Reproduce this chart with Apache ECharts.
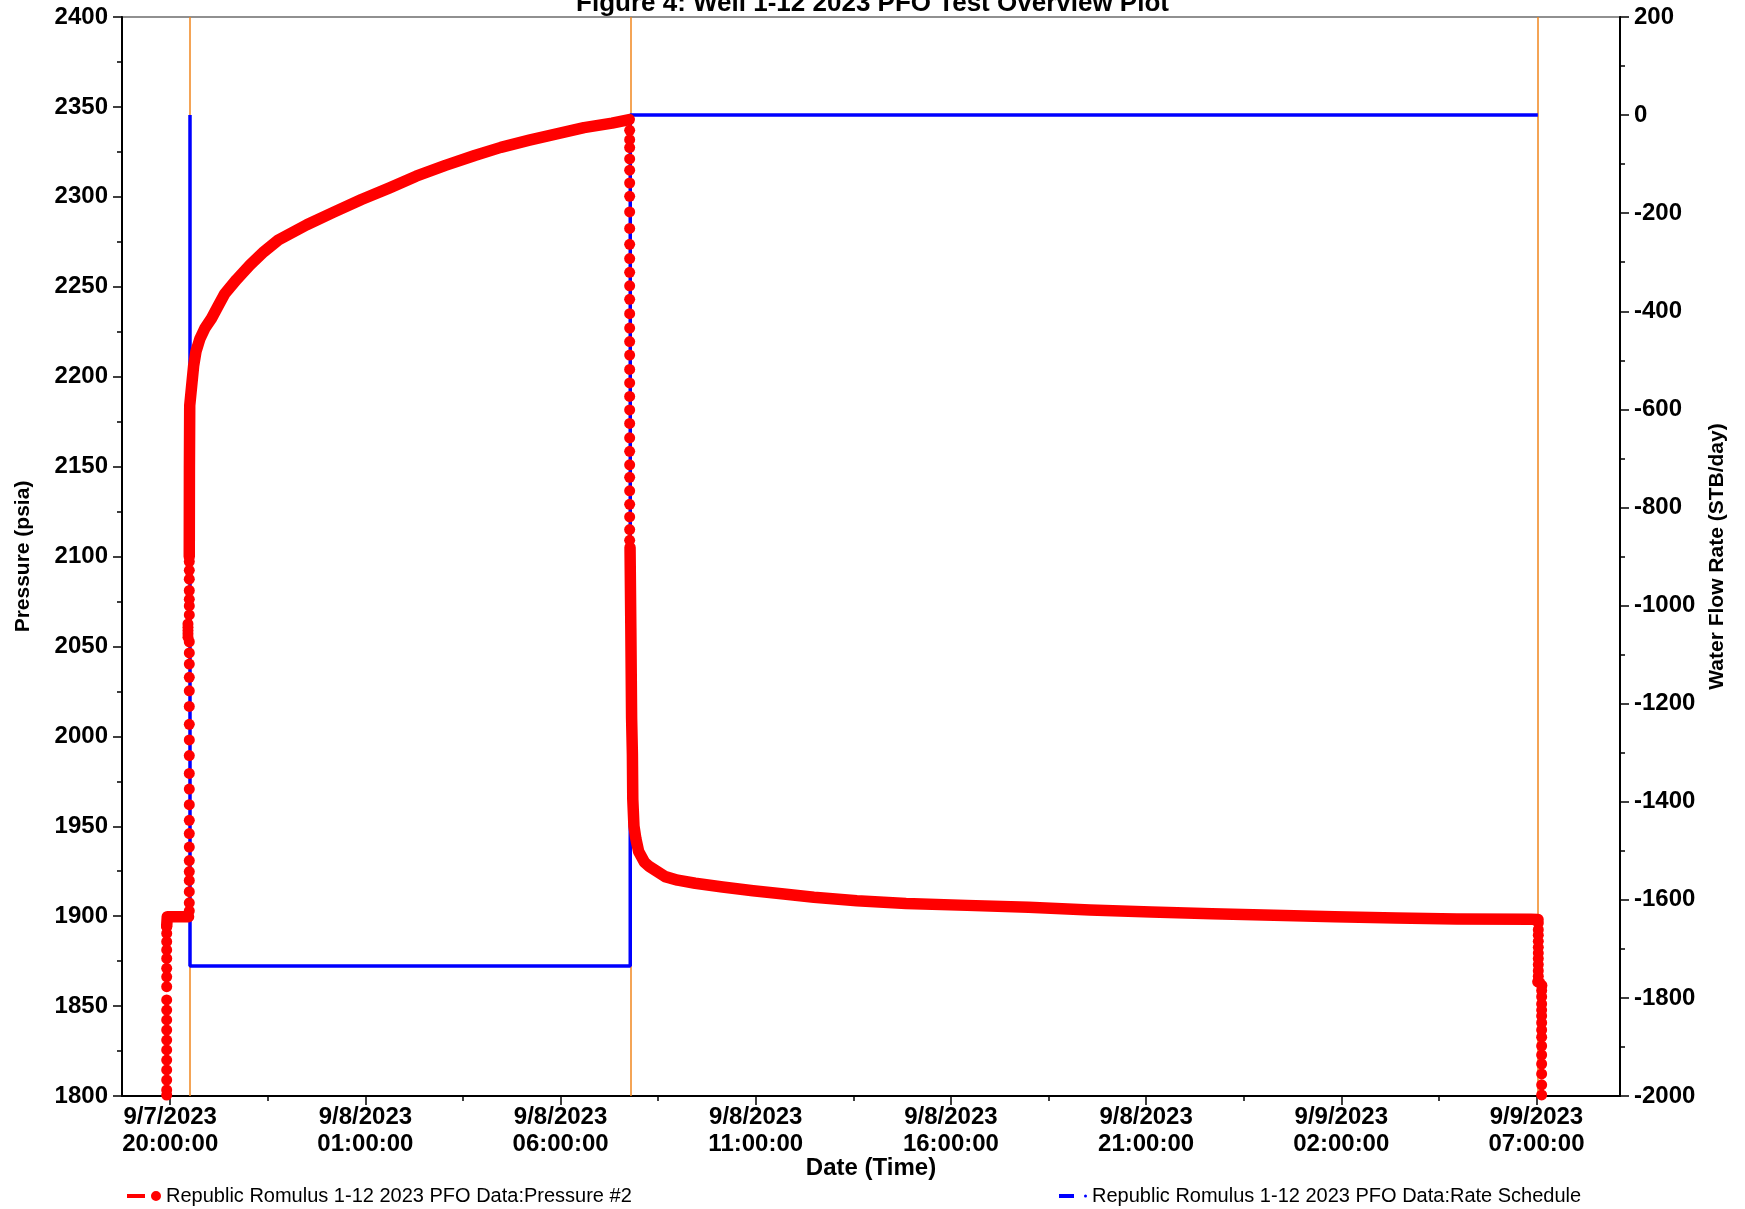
<!DOCTYPE html>
<html>
<head>
<meta charset="utf-8">
<script src="https://cdn.jsdelivr.net/npm/echarts@6/dist/echarts.min.js"></script>
<style>
  html, body { margin: 0; padding: 0; background: #ffffff; }
  #chart { width: 1745px; height: 1209px; }
</style>
</head>
<body>
<div id="chart"></div>
<script>
// Time values are decimal hours counted from 9/7/2023 00:00.
const timeRange = [18.765, 57.14];
const dateTicks = [20, 25, 30, 35, 40, 45, 50, 55];
const dateMinorTicks = [22.5, 27.5, 32.5, 37.5, 42.5, 47.5, 52.5];

// Test stage boundaries (injection start, shut-in, end of falloff)
const stageTimes = [20.507, 31.785, 55.035];

// Rate schedule (STB/day), negative = injection
const rateTime  = [20.507, 20.507, 31.785, 31.785, 55.035];
const rateValue = [0, -1735, -1735, 0, 0];

// Pressure #2 (psia): densely logged stretches, drawn as a continuous band
const preInjectionBand = [[19.91, 1894.5], [19.925, 1899.7], [20.47, 1899.7]];
const injectionBand = [
  [20.488, 2100], [20.492, 2150], [20.50, 2184], [20.55, 2195], [20.60, 2206],
  [20.66, 2214], [20.76, 2221], [20.89, 2227], [21.06, 2232.5], [21.22, 2239],
  [21.40, 2246.2], [21.70, 2254], [22.04, 2262], [22.40, 2269.5], [22.77, 2276],
  [23.5, 2284.5], [24.19, 2291.5], [24.9, 2298.5], [25.62, 2305], [26.3, 2311.5],
  [27.05, 2317.5], [27.8, 2323], [28.47, 2327.5], [29.2, 2331.5], [29.9, 2335],
  [30.6, 2338.5], [31.32, 2341], [31.76, 2343]
];
const falloffBand = [
  [31.78, 2105], [31.80, 2060], [31.82, 2010], [31.84, 1990], [31.85, 1965],
  [31.88, 1950], [31.93, 1943], [32.0, 1936], [32.15, 1930], [32.28, 1927.5],
  [32.68, 1922], [33.0, 1920], [33.45, 1918.3], [34.15, 1916.2], [34.93, 1914.1],
  [35.72, 1912.3], [36.49, 1910.5], [37.59, 1908.6], [38.85, 1907.1], [40.41, 1906.0],
  [41.99, 1904.9], [43.56, 1903.4], [45.13, 1902.3], [46.69, 1901.4], [48.27, 1900.5],
  [49.83, 1899.7], [51.40, 1899.0], [52.96, 1898.4], [54.86, 1898.3], [55.04, 1898.2]
];

// Pressure #2 (psia): sparse readings during the fast transients, drawn as dots
const initialFillDots = [
  [19.91, 1800.5], [19.91, 1803.4], [19.91, 1808.9], [19.91, 1814.5], [19.91, 1820.0],
  [19.91, 1825.6], [19.91, 1831.1], [19.91, 1836.7], [19.91, 1842.3], [19.91, 1847.8],
  [19.91, 1853.4], [19.91, 1860.8], [19.91, 1866.3], [19.91, 1871.0], [19.91, 1876.5],
  [19.91, 1881.2], [19.91, 1885.8], [19.91, 1890.4], [19.91, 1894.1]
];
const injectionRiseDots = [
  [20.489, 1903.0], [20.489, 1907.4], [20.489, 1913.6], [20.489, 1919.9], [20.489, 1924.8],
  [20.489, 1930.9], [20.489, 1938.4], [20.489, 1945.9], [20.489, 1953.3], [20.489, 1962.0],
  [20.489, 1970.7], [20.489, 1979.4], [20.489, 1989.3], [20.489, 1998.0], [20.489, 2006.7],
  [20.489, 2016.6], [20.489, 2025.3], [20.489, 2032.8], [20.489, 2040.2], [20.489, 2046.4],
  [20.489, 2052.6], [20.455, 2055.1], [20.455, 2057.0], [20.455, 2058.8], [20.455, 2060.6],
  [20.455, 2062.5], [20.489, 2067.5], [20.489, 2072.5], [20.489, 2076.2], [20.489, 2081.1],
  [20.489, 2087.4], [20.489, 2092.3], [20.489, 2097.2]
];
const shutInDots = [
  [31.77, 2337.0], [31.77, 2331.8], [31.77, 2327.4], [31.77, 2321.1], [31.77, 2314.8],
  [31.77, 2307.7], [31.77, 2300.3], [31.77, 2291.6], [31.77, 2282.4], [31.77, 2273.6],
  [31.77, 2265.7], [31.77, 2258.0], [31.77, 2250.5], [31.77, 2243.0], [31.77, 2235.0],
  [31.77, 2227.0], [31.77, 2219.5], [31.77, 2212.0], [31.77, 2204.0], [31.77, 2196.5],
  [31.77, 2189.0], [31.77, 2181.5], [31.77, 2174.0], [31.77, 2166.0], [31.77, 2158.5],
  [31.77, 2151.0], [31.77, 2144.0], [31.77, 2136.5], [31.77, 2129.0], [31.77, 2122.0],
  [31.77, 2115.0], [31.77, 2109.0]
];
const pullOutDots = [
  [55.047, 1896.2], [55.047, 1892.5], [55.047, 1889.4], [55.047, 1886.0], [55.047, 1882.7],
  [55.047, 1879.5], [55.047, 1876.4], [55.047, 1873.1], [55.047, 1869.7], [55.047, 1866.6],
  [55.047, 1864.1], [55.03, 1863.5], [55.09, 1862.8], [55.14, 1861.5],
  [55.133, 1858.7], [55.133, 1855.2], [55.133, 1851.2], [55.133, 1847.8], [55.133, 1844.5],
  [55.133, 1840.8], [55.133, 1836.7], [55.133, 1832.7], [55.133, 1827.8], [55.133, 1822.8],
  [55.133, 1817.8], [55.133, 1812.3], [55.133, 1806.2], [55.133, 1800.6]
];

const pressureName = 'Republic Romulus 1-12 2023 PFO Data:Pressure #2';
const rateName = 'Republic Romulus 1-12 2023 PFO Data:Rate Schedule';

const FONT = "'Liberation Sans', Arial, sans-serif";
const RED = '#ff0000';
const BLUE = '#0000ff';
const ORANGE = '#f0861e';

function pad2(n) { return (n < 10 ? '0' : '') + n; }
function dateLabel(h) {
  const day = 7 + Math.floor(h / 24);
  const hr = Math.round(h - Math.floor(h / 24) * 24);
  return '9/' + day + '/2023\n' + pad2(hr) + ':00:00';
}
function plainNumber(v) { return String(v); }

const chart = echarts.init(document.getElementById('chart'), null, { renderer: 'canvas' });

const bandStyle = {
  type: 'line',
  name: pressureName,
  xAxisIndex: 0,
  yAxisIndex: 0,
  showSymbol: false,
  symbol: 'circle',
  color: RED,
  lineStyle: { color: RED, width: 11.5, cap: 'round', join: 'round', opacity: 1 },
  z: 4,
  silent: true,
  animation: false
};

const valueAxisCommon = {
  axisLine: { show: true, lineStyle: { color: '#000', width: 2 } },
  axisTick: { show: true, length: 9, lineStyle: { color: '#000', width: 1.5 } },
  minorTick: { show: true, splitNumber: 2, length: 5, lineStyle: { color: '#000', width: 1.5 } },
  axisLabel: { fontFamily: FONT, fontSize: 24, fontWeight: 'bold', color: '#000', margin: 14, formatter: plainNumber },
  splitLine: { show: false },
  minorSplitLine: { show: false }
};

const option = {
  animation: false,
  backgroundColor: '#ffffff',
  textStyle: { fontFamily: FONT, color: '#000' },
  title: {
    text: 'Figure 4: Well 1-12 2023 PFO Test Overview Plot',
    left: 'center',
    top: -9,
    padding: 0,
    textStyle: { fontFamily: FONT, fontSize: 26, fontWeight: 'bold', color: '#000' }
  },
  legend: [
    {
      data: [pressureName],
      left: 122,
      top: 1181,
      itemWidth: 34,
      itemHeight: 10,
      icon: 'path://M0,3H18V7H0Z M24,5a5,5 0 1,0 10,0a5,5 0 1,0 -10,0Z',
      textStyle: { fontFamily: FONT, fontSize: 20, color: '#000' },
      selectedMode: false
    },
    {
      data: [rateName],
      left: 1054,
      top: 1181,
      itemWidth: 28,
      itemHeight: 4,
      icon: 'path://M0,0H15V4H0Z M25,2a1.5,1.5 0 1,0 3,0a1.5,1.5 0 1,0 -3,0Z',
      textStyle: { fontFamily: FONT, fontSize: 20, color: '#000' },
      selectedMode: false
    }
  ],
  grid: {
    left: 122, right: 125, top: 17, bottom: 113,
    show: true, borderColor: '#222', borderWidth: 1.2, backgroundColor: 'transparent'
  },
  xAxis: [
    {
      type: 'value',
      min: timeRange[0],
      max: timeRange[1],
      position: 'bottom',
      name: 'Date (Time)',
      nameLocation: 'middle',
      nameGap: 60,
      nameMoveOverlap: false,
      nameTextStyle: { fontFamily: FONT, fontSize: 24, fontWeight: 'bold', color: '#000' },
      axisLine: { show: true, onZero: false, lineStyle: { color: '#000', width: 2 } },
      axisTick: { show: true, length: 9, lineStyle: { color: '#000', width: 1.5 }, customValues: dateTicks },
      axisLabel: {
        customValues: dateTicks,
        formatter: dateLabel,
        fontFamily: FONT, fontSize: 24, fontWeight: 'bold', color: '#000',
        lineHeight: 27, margin: 8
      },
      splitLine: { show: false }
    },
    {
      type: 'value',
      min: timeRange[0],
      max: timeRange[1],
      position: 'bottom',
      axisLine: { show: false, onZero: false },
      axisTick: { show: true, length: 5, lineStyle: { color: '#000', width: 1.5 }, customValues: dateMinorTicks },
      axisLabel: { show: false, customValues: dateMinorTicks },
      splitLine: { show: false }
    }
  ],
  yAxis: [
    Object.assign({}, valueAxisCommon, {
      type: 'value',
      min: 1800, max: 2400, interval: 50,
      position: 'left',
      name: 'Pressure (psia)',
      nameLocation: 'middle',
      nameRotate: 90,
      nameGap: 88,
      nameTextStyle: { fontFamily: FONT, fontSize: 21, fontWeight: 'bold', color: '#000' }
    }),
    Object.assign({}, valueAxisCommon, {
      type: 'value',
      min: -2000, max: 200, interval: 200,
      position: 'right',
      name: 'Water Flow Rate (STB/day)',
      nameLocation: 'middle',
      nameRotate: 90,
      nameGap: 83,
      nameTextStyle: { fontFamily: FONT, fontSize: 21, fontWeight: 'bold', color: '#000' }
    })
  ],
  series: [
    {
      type: 'line',
      name: rateName,
      xAxisIndex: 0,
      yAxisIndex: 1,
      data: rateTime.map((t, i) => [t, rateValue[i]]),
      showSymbol: false,
      color: BLUE,
      lineStyle: { color: BLUE, width: 3.5 },
      z: 3,
      silent: true,
      markLine: {
        silent: true,
        symbol: 'none',
        z: 1,
        label: { show: false },
        lineStyle: { color: ORANGE, width: 1.5, type: 'solid' },
        data: stageTimes.map(t => ({ xAxis: t }))
      }
    },
    Object.assign({}, bandStyle, { data: preInjectionBand }),
    Object.assign({}, bandStyle, { data: injectionBand }),
    Object.assign({}, bandStyle, { data: falloffBand }),
    {
      type: 'scatter',
      name: pressureName,
      xAxisIndex: 0,
      yAxisIndex: 0,
      symbol: 'circle',
      symbolSize: 11,
      color: RED,
      itemStyle: { color: RED, opacity: 1 },
      z: 4,
      silent: true,
      data: [].concat(initialFillDots, injectionRiseDots, shutInDots, pullOutDots)
    }
  ]
};

chart.setOption(option);
</script>
</body>
</html>
